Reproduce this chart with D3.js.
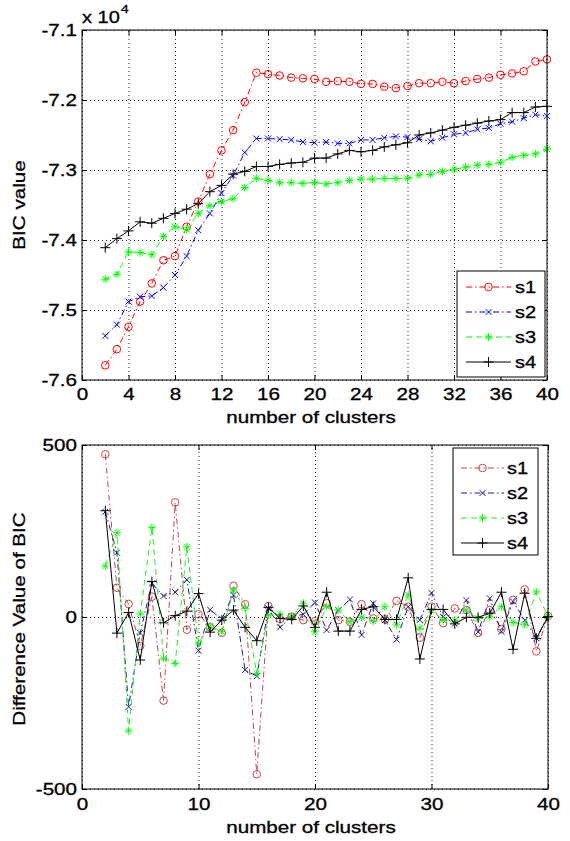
<!DOCTYPE html>
<html><head><meta charset="utf-8">
<script src="https://cdn.jsdelivr.net/npm/d3@7/dist/d3.min.js"></script>
<style>body{margin:0;background:#fff} text{font-family:"Liberation Sans",Arial,sans-serif;fill:#000;stroke:#000;stroke-width:0.3px}</style>
</head><body><svg id="c" width="570" height="841"></svg>
<script>
// ---------------- data ----------------
const clusters = [2,3,4,5,6,7,8,9,10,11,12,13,14,15,16,17,18,19,20,21,22,23,24,25,26,27,28,29,30,31,32,33,34,35,36,37,38,39,40];
const seriesNames = ["s1","s2","s3","s4"];

const bic_s1 = [-75790,-75560,-75240,-74880,-74620,-74290,-74230,-73810,-73450,-73060,-72720,-72430,-72030,-71610,-71630,-71650,-71680,-71690,-71700,-71740,-71730,-71740,-71770,-71770,-71810,-71830,-71800,-71760,-71760,-71740,-71760,-71730,-71700,-71680,-71640,-71620,-71590,-71450,-71420];
const bic_s2 = [-75370,-75210,-74880,-74810,-74800,-74680,-74500,-74230,-73860,-73620,-73330,-73080,-72750,-72550,-72550,-72560,-72570,-72600,-72610,-72600,-72620,-72620,-72570,-72570,-72540,-72520,-72530,-72560,-72590,-72540,-72490,-72470,-72420,-72400,-72340,-72310,-72260,-72210,-72230];
const bic_s3 = [-74560,-74490,-74170,-74180,-74210,-73950,-73810,-73850,-73620,-73510,-73450,-73410,-73250,-73120,-73150,-73180,-73180,-73190,-73180,-73200,-73180,-73150,-73130,-73130,-73120,-73120,-73120,-73070,-73060,-73020,-72990,-72960,-72930,-72920,-72890,-72820,-72790,-72770,-72700];
const bic_s4 = [-74110,-73980,-73870,-73740,-73760,-73690,-73620,-73560,-73480,-73310,-73220,-73060,-73020,-72950,-72950,-72920,-72900,-72890,-72830,-72830,-72770,-72720,-72740,-72720,-72670,-72640,-72610,-72500,-72470,-72430,-72390,-72360,-72330,-72300,-72280,-72180,-72180,-72100,-72090];

const diff_s1 = [473,85,38,-84,59,-243,333,-37,8,-30,-46,91,37,-457,32,-6,1,-9,-12,40,-9,-14,37,-4,-7,47,30,-60,30,-18,25,20,-46,20,-35,50,80,-100,3];
const diff_s2 = [306,187,-261,-46,98,61,72,108,-98,21,-6,64,-154,-172,25,-30,1,8,42,-38,20,51,-52,40,-9,-66,30,-9,70,0,-20,49,-43,54,-43,45,-9,-62,3];
const diff_s3 = [148,245,-331,9,260,-120,-135,204,-76,-26,-43,78,25,-164,6,8,1,40,-43,30,20,-14,-1,-12,30,-23,64,-33,20,-9,-9,20,-4,1,30,-16,-23,73,3];
const diff_s4 = [309,-47,13,-125,103,-17,4,17,68,-44,-9,20,-30,-69,28,-4,-7,32,-30,72,-41,-41,22,30,-7,-7,114,-122,22,22,-20,-1,-1,11,72,-94,69,-62,1];

const topXTicks = [0,4,8,12,16,20,24,28,32,36,40];
const topYTicks = [-76000,-75000,-74000,-73000,-72000,-71000];
const topYTickLabels = ["-7.6","-7.5","-7.4","-7.3","-7.2","-7.1"];
const botXTicks = [0,10,20,30,40];
const botYTicks = [-500,0,500];
const botYTickLabels = ["-500","0","500"];

// ---------------- styles ----------------
const SX = 1.25; // horizontal glyph stretch
const markers = ["circle","x","star","plus"];
const dashes = ["6,3,1.5,3","6,3,1.5,3","6,4",null];
const topColors = ["#ff0000","#0000ff","#00ff00","#000000"];
const botColors = ["#c04646","#1c1c94","#22ee22","#000000"];

const svg = d3.select("#c");
svg.append("rect").attr("width",570).attr("height",841).attr("fill","#fff");

function marker(g, type, x, y, color){
  if(type==="circle"){
    g.append("circle").attr("cx",x).attr("cy",y).attr("r",3.8).attr("fill","none").attr("stroke",color).attr("stroke-width",1);
  } else {
    let d;
    if(type==="x") d="M-3,-3L3,3M-3,3L3,-3";
    else if(type==="plus") d="M-5,0H5M0,-5V5";
    else d="M-4,0H4M0,-4V4M-3,-3L3,3M-3,3L3,-3";
    g.append("path").attr("transform",`translate(${x},${y})`).attr("d",d).attr("fill","none").attr("stroke",color).attr("stroke-width",1);
  }
}

function panel(o){
  const g = svg.append("g");
  const xs = d3.scaleLinear().domain([0,40]).range([o.x0,o.x1]);
  const ys = d3.scaleLinear().domain(o.ydom).range([o.y1,o.y0]);
  const H = o.y1-o.y0, W = o.x1-o.x0;
  // grid
  g.append("g").attr("transform",`translate(0,${o.y1})`)
    .call(d3.axisBottom(xs).tickValues(o.xticks).tickSize(-H).tickFormat(""))
    .call(a=>{a.select(".domain").remove();a.selectAll("line").attr("stroke","#222").attr("stroke-dasharray","1,3");});
  g.append("g").attr("transform",`translate(${o.x0},0)`)
    .call(d3.axisLeft(ys).tickValues(o.yticks).tickSize(-W).tickFormat(""))
    .call(a=>{a.select(".domain").remove();a.selectAll("line").attr("stroke","#222").attr("stroke-dasharray","1,3");});
  // series
  o.series.forEach((vals,i)=>{
    const pts = clusters.map((c,k)=>[c,vals[k]]);
    const line = d3.line().x(d=>xs(d[0])).y(d=>ys(d[1]));
    const p = g.append("path").attr("d",line(pts)).attr("fill","none").attr("stroke",o.colors[i]).attr("stroke-width",1);
    if(dashes[i]) p.attr("stroke-dasharray",dashes[i]);
    const mg = g.append("g");
    pts.forEach(d=>marker(mg,markers[i],xs(d[0]),ys(d[1]),o.colors[i]));
  });
  // border
  g.append("rect").attr("x",o.x0).attr("y",o.y0).attr("width",W).attr("height",H).attr("fill","none").attr("stroke","#000").attr("stroke-width",1);
  // axes with inward ticks
  g.append("g").attr("transform",`translate(0,${o.y1})`)
    .call(d3.axisBottom(xs).tickValues(o.xticks).tickSize(-5).tickPadding(o.xpad).tickFormat(d3.format("d")));
  g.append("g").attr("transform",`translate(${o.x0},0)`)
    .call(d3.axisLeft(ys).tickValues(o.yticks).tickSize(-5).tickPadding(5).tickFormat((d,k)=>o.ylabels[k]));
  g.append("g").attr("transform",`translate(0,${o.y0})`)
    .call(d3.axisTop(xs).tickValues(o.xticks).tickSize(-5).tickFormat(""));
  g.append("g").attr("transform",`translate(${o.x1},0)`)
    .call(d3.axisRight(ys).tickValues(o.yticks).tickSize(-5).tickFormat(""));
  g.selectAll(".domain").remove();
  g.selectAll(".tick line").filter(function(){return !this.getAttribute("stroke-dasharray");}).attr("stroke","#000");
  g.selectAll(".tick text").attr("font-size",16.5).attr("font-family","Liberation Sans, Arial, sans-serif").attr("fill","#000").classed("sx",true);
  // labels
  g.append("text").attr("class","sx").attr("x",311).attr("y",o.xlabY).attr("text-anchor","middle").attr("font-size",16.5).text("number of clusters");
  g.append("text").attr("transform",`translate(${o.ylabX},${o.ylabYc}) rotate(-90) scale(${SX},1)`).attr("text-anchor","middle").attr("font-size",16.5).text(o.ylabel);
  // legend
  const L = o.legend;
  g.append("rect").attr("x",L.x).attr("y",L.y).attr("width",L.w).attr("height",L.h).attr("fill","#fff").attr("stroke","#000").attr("stroke-width",1);
  seriesNames.forEach((n,i)=>{
    const yy = L.rows[i];
    const ln = g.append("line").attr("x1",L.lx0).attr("x2",L.lx1).attr("y1",yy).attr("y2",yy).attr("stroke",o.colors[i]).attr("stroke-width",1);
    if(dashes[i]) ln.attr("stroke-dasharray",dashes[i]);
    marker(g,markers[i],(L.lx0+L.lx1)/2,yy,o.colors[i]);
    g.append("text").attr("class","sx").attr("x",L.tx).attr("y",yy+6).attr("font-size",16).text(n);
  });
}

panel({x0:82,x1:547,y0:30,y1:380,ydom:[-76000,-71000],xticks:topXTicks,yticks:topYTicks,ylabels:topYTickLabels,
  series:[bic_s1,bic_s2,bic_s3,bic_s4],colors:topColors,xpad:8,xlabY:423,ylabX:25,ylabYc:205,ylabel:"BIC value",
  legend:{x:457,y:271,w:88,h:106,rows:[287,312,337,362],lx0:466,lx1:511,tx:515}});

panel({x0:82,x1:548,y0:445,y1:789,ydom:[-500,500],xticks:botXTicks,yticks:botYTicks,ylabels:botYTickLabels,
  series:[diff_s1,diff_s2,diff_s3,diff_s4],colors:botColors,xpad:9,xlabY:833,ylabX:25,ylabYc:619,ylabel:"Difference Value of BIC",
  legend:{x:453,y:448,w:85,h:107,rows:[468,493,518,543],lx0:461,lx1:504,tx:507}});

// exponent label
svg.append("text").attr("class","sx").attr("x",82).attr("y",23).attr("font-size",16).text("x 10");
svg.append("text").attr("class","sx").attr("x",121).attr("y",13).attr("font-size",11).text("4");

// horizontal stretch of glyphs around their anchor point
svg.selectAll("text.sx").each(function(){
  const t = d3.select(this);
  const x = +t.attr("x")||0, y = +t.attr("y")||0;
  t.attr("transform",`translate(${x},${y}) scale(${SX},1) translate(${-x},${-y})`);
});
</script></body></html>
